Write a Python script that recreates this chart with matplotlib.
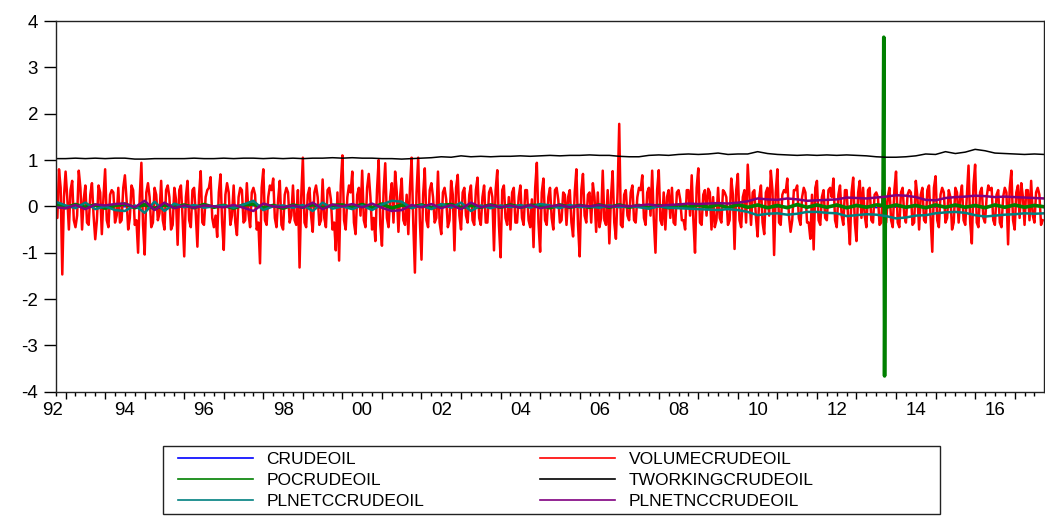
import numpy as np
import matplotlib
matplotlib.use("Agg")
import matplotlib.pyplot as plt
from matplotlib.patches import Rectangle

plt.rcParams['font.family'] = ['Liberation Sans', 'DejaVu Sans']
plt.rcParams['axes.unicode_minus'] = False

start_year = 1992.75

# VOLUMECRUDEOIL, first half of each month, Oct 1992 .. Sep 2017
volume = [
    0.3, 0.8, -1.47,
    0.75, -0.5, 0.55, -0.45, 0.77, -0.5, 0.45, -0.4, 0.5, -0.71, 0.45, -0.6,
    0.8, -0.45, 0.35, -0.35, 0.4, -0.3, 0.67, -0.5, 0.45, -0.4, -1.0, 0.94,
    -1.04, 0.5, -0.45, 0.4, -0.3, 0.55, -0.5, 0.45, -0.5, 0.4, -0.83, 0.45,
    -1.08, 0.55, -0.45, 0.4, -0.87, 0.76, -0.4, 0.35, 0.63, -0.45, -0.66, 0.69,
    -0.94, 0.5, -0.4, 0.45, -0.62, 0.4, -0.35, 0.5, -0.45, 0.4, -0.5, -1.23,
    0.8, -0.4, 0.45, 0.6, -0.45, 0.55, -0.5, 0.4, -0.35, 0.45, -0.4, -1.32,
    1.05, -0.45, 0.4, -0.55, 0.45, -0.4, 0.58, -0.45, 0.4, -0.5, -0.95, -1.17,
    1.1, -0.5, 0.45, 0.75, -0.6, 0.4, 0.77, -0.45, 0.7, -0.5, -0.75, 1.0,
    -0.85, 0.93, -0.45, 0.5, 0.75, -0.55, 0.6, -0.4, -0.6, 1.05, -1.43, 1.05,
    -1.15, 0.82, -0.45, 0.5, -0.35, 0.75, -0.6, 0.4, -0.45, 0.55, -0.95, 0.68,
    -0.5, 0.4, -0.35, 0.45, -0.4, 0.62, -0.4, 0.45, -0.35, 0.4, -0.95, 0.78,
    -1.1, 0.45, -0.4, -0.5, 0.4, -0.35, 0.45, -0.4, 0.35, -0.45, -0.88, 0.94,
    -0.98, 0.6, -0.4, 0.4, -0.5, 0.4, -0.35, 0.3, -0.4, 0.35, -0.65, 0.8,
    -1.08, 0.7, -0.35, 0.3, 0.5, -0.55, -0.45, 0.77, -0.4, -0.8, 0.76, -0.7,
    1.78, -0.45, 0.35, -0.3, 0.45, -0.35, 0.4, 0.67, -0.4, 0.4, 0.77, -1.0,
    0.78, -0.4, -0.5, 0.35, 0.4, -0.4, 0.35, -0.3, -0.5, 0.35, 0.67, -1.0,
    0.82, -0.4, 0.35, 0.38, -0.5, -0.45, 0.4, -0.35, 0.3, -0.4, 0.6, -0.92,
    0.7, -0.45, 0.35, 0.9, -0.4, 0.35, -0.65, 0.45, -0.6, 0.4, 0.77, -1.05,
    0.8, -0.4, 0.35, 0.6, -0.55, 0.35, 0.45, -0.4, 0.4, -0.35, -0.7, -0.93,
    0.55, -0.4, 0.35, -0.3, 0.4, 0.6, -0.45, 0.45, -0.4, 0.35, -0.82, 0.62,
    -0.75, 0.55, 0.4, -0.45, 0.4, -0.35, 0.3, -0.4, 0.35, -0.35, 0.4, -0.45,
    0.75, -0.45, 0.4, -0.35, 0.35, -0.4, 0.55, -0.5, 0.4, -0.35, 0.45, -0.98,
    0.65, -0.45, 0.4, -0.35, 0.35, -0.5, 0.4, -0.35, 0.45, -0.4, 0.88, -0.8,
    0.9, -0.45, 0.4, -0.35, 0.45, 0.4, -0.4, 0.35, -0.45, 0.4, -0.82, 0.77,
    -0.5, 0.45, 0.5, -0.4, 0.35, 0.55, -0.35, 0.4, -0.4,
]
# VOLUMECRUDEOIL, second half of each month
volume_mid = [
    -0.25, 0.4, 0.2,
    0.2, 0.35, -0.3, -0.2, 0.4, 0.15, -0.35, 0.25, -0.2, -0.3, 0.3, 0.2,
    -0.3, 0.25, 0.3, -0.2, -0.35, 0.4, 0.15, -0.25, 0.35, -0.3, 0.2, -0.4,
    0.3, 0.2, -0.35, 0.25, -0.15, -0.3, 0.35, 0.2, -0.4, 0.15, 0.35, -0.25,
    0.2, -0.3, 0.35, -0.15, 0.25, -0.35, 0.2, 0.4, -0.25, -0.2, 0.3, -0.35,
    0.25, 0.3, -0.2, -0.35, 0.2, 0.35, -0.3, -0.15, 0.3, 0.25, -0.35, 0.4,
    -0.3, 0.2, 0.35, -0.25, 0.15, -0.4, 0.25, 0.3, -0.2, -0.3, 0.35, 0.2,
    -0.35, 0.25, -0.2, 0.3, 0.2, -0.3, -0.25, 0.35, 0.15, -0.35, 0.3, 0.45,
    -0.3, 0.2, 0.3, -0.35, 0.25, -0.2, -0.3, 0.4, 0.2, -0.25, 0.35, -0.4,
    0.3, -0.25, 0.2, -0.35, 0.3, 0.2, -0.3, 0.25, 0.4, -0.35, 0.3, -0.3,
    0.25, -0.3, 0.35, 0.2, -0.25, -0.35, 0.3, 0.15, -0.3, 0.25, 0.4, -0.2,
    0.3, -0.2, 0.25, -0.3, 0.35, -0.25, 0.2, -0.35, 0.3, 0.2, 0.35, -0.4,
    0.35, -0.25, 0.2, 0.3, -0.35, 0.2, -0.25, 0.35, -0.3, 0.15, 0.4, -0.35,
    0.3, -0.3, 0.2, -0.25, 0.35, 0.15, -0.3, 0.25, 0.2, -0.35, 0.3, -0.4,
    0.35, -0.2, 0.25, -0.35, 0.2, 0.3, -0.25, -0.3, 0.35, 0.2, -0.35, 0.3,
    -0.4, 0.25, -0.2, 0.3, -0.3, 0.2, 0.35, -0.25, 0.3, -0.2, -0.3, 0.35,
    -0.3, 0.3, 0.2, -0.25, -0.35, 0.3, 0.15, -0.3, 0.35, -0.2, -0.3, 0.4,
    -0.35, 0.25, -0.2, 0.3, 0.2, -0.3, -0.25, 0.35, 0.2, -0.3, 0.25, 0.35,
    -0.3, 0.2, -0.35, 0.25, 0.3, -0.25, 0.2, -0.35, 0.3, -0.2, 0.35, 0.3,
    -0.35, 0.25, 0.3, -0.2, -0.3, 0.35, -0.25, 0.2, 0.3, -0.35, 0.25, 0.4,
    -0.3, 0.2, -0.25, 0.35, 0.2, -0.3, 0.25, -0.2, 0.35, -0.3, 0.3, -0.35,
    0.3, -0.25, -0.2, 0.35, -0.3, 0.25, 0.2, -0.35, 0.3, 0.2, -0.3, 0.35,
    -0.35, 0.3, -0.2, 0.25, 0.3, -0.35, 0.2, 0.25, -0.3, 0.35, -0.25, 0.4,
    -0.3, 0.25, 0.3, -0.25, 0.2, -0.35, 0.3, 0.2, -0.3, 0.25, -0.35, 0.45,
    -0.35, 0.3, -0.25, 0.2, 0.35, -0.3, 0.25, -0.35, 0.2, 0.3, 0.4, -0.3,
    0.3, -0.25, 0.2, 0.35, -0.3, -0.2, 0.3, 0.25, -0.3,
]

# quarterly series, Q4 1992 .. Q4 2017
tworking = [
    1.03,
    1.03, 1.04, 1.03, 1.04,  1.03, 1.04, 1.04, 1.02,  1.02, 1.03, 1.03, 1.03,
    1.03, 1.04, 1.03, 1.03,  1.04, 1.03, 1.04, 1.04,  1.03, 1.04, 1.03, 1.04,
    1.03, 1.04, 1.04, 1.05,  1.04, 1.05, 1.04, 1.04,  1.03, 1.03, 1.02, 1.03,
    1.04, 1.05, 1.07, 1.06,  1.09, 1.07, 1.08, 1.07,  1.08, 1.08, 1.09, 1.08,
    1.09, 1.10, 1.09, 1.10,  1.10, 1.11, 1.10, 1.10,  1.08, 1.07, 1.07, 1.10,
    1.11, 1.10, 1.12, 1.13,  1.12, 1.13, 1.15, 1.12,  1.13, 1.13, 1.18, 1.14,
    1.12, 1.11, 1.10, 1.11,  1.10, 1.11, 1.10, 1.11,  1.10, 1.09, 1.07, 1.06,
    1.06, 1.07, 1.09, 1.13,  1.12, 1.18, 1.14, 1.17,  1.23, 1.20, 1.15, 1.14,
    1.13, 1.12, 1.13, 1.12,
]
plnetc = [
    0.1,
    0.02, -0.04, 0.08, -0.06,  0.0, -0.08, -0.1, 0.02,  -0.14, 0.1, -0.1, 0.06,
    -0.02, 0.03, -0.03, 0.0,  0.02, -0.03, 0.04, 0.12,  -0.08, 0.0, 0.02, -0.03,
    0.03, -0.1, 0.08, -0.05,  0.0, -0.06, 0.02, -0.08,  0.04, 0.12, 0.1, -0.04,
    0.03, -0.06, 0.05, -0.03,  0.08, -0.1, 0.02, -0.04,  0.02, -0.02, 0.03, -0.03,
    0.05, 0.02, -0.04, 0.03,  -0.02, 0.0, -0.03, 0.02,  -0.02, 0.01, -0.02, -0.05,
    0.0, -0.03, -0.04, -0.05,  -0.06, -0.07, -0.08, -0.06,  -0.08, -0.12, -0.19, -0.16,
    -0.15, -0.18, -0.16, -0.12,  -0.12, -0.14, -0.15, -0.21,  -0.19, -0.17, -0.18, -0.21,
    -0.26, -0.24, -0.2, -0.19,  -0.15, -0.13, -0.12, -0.14,  -0.19, -0.22, -0.2, -0.18,
    -0.17, -0.15, -0.16, -0.15,
]
plnetnc = [
    -0.02,
    -0.04, 0.03, -0.06, 0.04,  0.02, 0.05, 0.06, -0.02,  0.12, -0.08, 0.08, -0.04,
    0.02, -0.03, 0.02, 0.0,  -0.02, 0.03, -0.03, -0.1,  0.06, 0.0, -0.02, 0.02,
    -0.03, 0.08, -0.06, 0.04,  0.0, 0.05, -0.02, 0.06,  -0.03, -0.1, -0.08, 0.03,
    -0.02, 0.05, -0.04, 0.03,  -0.06, 0.08, -0.02, 0.03,  -0.02, 0.02, -0.03, 0.03,
    -0.04, 0.0, 0.03, -0.02,  0.02, 0.0, 0.03, -0.01,  0.02, 0.0, 0.02, 0.04,
    0.01, 0.03, 0.04, 0.06,  0.05, 0.06, 0.07, 0.06,  0.08, 0.11, 0.17, 0.15,
    0.14, 0.17, 0.15, 0.12,  0.13, 0.14, 0.15, 0.19,  0.18, 0.17, 0.19, 0.21,
    0.24, 0.23, 0.2, 0.14,  0.13, 0.18, 0.2, 0.21,  0.23, 0.22, 0.2, 0.21,
    0.2, 0.19, 0.18, 0.17,
]
pocrude = [
    0.05,
    -0.03, 0.04, -0.02, 0.03,  -0.04, 0.02, 0.05, -0.03,  0.04, -0.05, 0.03, -0.02,
    0.03, -0.03, 0.04, -0.02,  0.02, -0.04, 0.03, 0.05,  -0.03, 0.02, -0.04, 0.03,
    -0.02, 0.04, -0.03, 0.02,  0.03, -0.02, 0.04, -0.03,  0.05, -0.04, 0.03, -0.02,
    0.03, -0.03, 0.02, 0.04,  -0.03, 0.02, -0.02, 0.03,  -0.02, 0.03, -0.02, 0.02,
    0.02, -0.03, 0.03, -0.02,  0.02, -0.02, 0.03, -0.02,  0.03, -0.02, 0.02, -0.03,
    0.02, -0.03, 0.03, -0.02,  0.03, -0.02, 0.04, -0.03,  0.04, -0.02, 0.03, -0.03,
    0.02, -0.03, 0.04, -0.02,  0.03, -0.02, 0.03, -0.03,  0.02, -0.02, 0.03, -0.02,
    0.03, -0.02, 0.02, -0.03,  0.03, -0.02, 0.03, -0.02,  0.02, -0.03, 0.03, -0.02,
    0.03, -0.02, 0.02, -0.01,
]
# the one-week jump of POCRUDEOIL in September 2013
po_spike_t = [2013.67, 2013.69, 2013.71, 2013.73]
po_spike = [0.02, 3.65, -3.66, 0.0]
crudeoil = [
    0.01,
    0.0, 0.01, -0.01, 0.0,  0.01, 0.0, -0.01, 0.01,  0.0, -0.01, 0.01, 0.0,
    0.0, 0.01, 0.0, -0.01,  0.01, 0.0, 0.0, 0.01,  -0.01, 0.0, 0.01, 0.0,
    0.0, -0.01, 0.01, 0.0,  0.01, 0.0, -0.01, 0.0,  0.0, 0.01, 0.0, -0.01,
    0.01, 0.0, 0.0, -0.01,  0.0, 0.01, -0.01, 0.0,  0.01, 0.0, 0.0, -0.01,
    0.0, 0.01, 0.0, 0.0,  -0.01, 0.0, 0.01, 0.0,  -0.02, 0.0, 0.01, -0.03,
    0.0, -0.04, 0.02, -0.03,  0.0, -0.02, 0.01, -0.03,  0.0, -0.02, 0.01, 0.0,
    -0.02, 0.0, 0.01, -0.02,  0.0, -0.01, 0.0, -0.02,  0.0, 0.01, -0.03, 0.0,
    -0.02, 0.0, -0.01, 0.0,  -0.02, 0.0, -0.01, 0.0,  -0.01, 0.0, 0.01, 0.0,
    0.0, -0.01, 0.0, 0.0,
]

year_labels = ['92', '94', '96', '98', '00', '02', '04', '06', '08', '10', '12', '14', '16']
year_label_pos = [1992.68] + [1994.5 + 2 * k for k in range(12)]

t_month = start_year + np.arange(len(volume)) / 12.0
t_vol = np.column_stack([t_month, t_month + 1 / 24.0]).ravel()
vol = np.column_stack([volume, volume_mid]).ravel()
t_quarter = start_year + np.arange(len(tworking)) / 4.0

po_t = np.concatenate([t_quarter, po_spike_t])
po_v = np.concatenate([pocrude, po_spike])
order = np.argsort(po_t)
po_t, po_v = po_t[order], po_v[order]

fig = plt.figure(figsize=(10.45, 5.16), dpi=100)
ax = fig.add_axes([0.0533, 0.2409, 0.9453, 0.7184])

l_crude, = ax.plot(t_quarter, crudeoil, color='#0000ff', lw=1.0, label='CRUDEOIL')
l_vol, = ax.plot(t_vol, vol, color='#ff0000', lw=1.8, label='VOLUMECRUDEOIL')
l_po, = ax.plot(po_t, po_v, color='#008000', lw=2.6, label='POCRUDEOIL')
l_tw, = ax.plot(t_quarter, tworking, color='black', lw=1.1, label='TWORKINGCRUDEOIL')
l_pc, = ax.plot(t_quarter, plnetc, color='#008080', lw=1.8, label='PLNETCCRUDEOIL')
l_pn, = ax.plot(t_quarter, plnetnc, color='#800080', lw=1.8, label='PLNETNCCRUDEOIL')

ax.set_xlim(start_year, 2017.73)
ax.set_ylim(-4, 4)
ax.set_yticks(range(-4, 5))
ax.set_yticklabels([str(v) for v in range(-4, 5)])
ax.tick_params(axis='y', direction='out', length=8.6, width=1, pad=4, labelsize=13.5)

ax.set_xticks(range(1993, 2018))
ax.set_xticks([y + q / 4 for y in range(1992, 2018) for q in (1, 2, 3)
               if start_year <= y + q / 4 <= 2017.73], minor=True)
ax.set_xticklabels([])
ax.tick_params(axis='x', which='major', direction='out', length=5, width=1)
ax.tick_params(axis='x', which='minor', direction='out', length=3, width=1)
for lab, pos in zip(year_labels, year_label_pos):
    ax.annotate(lab, xy=(pos, 0), xycoords=('data', 'axes fraction'),
                xytext=(0, -13.5), textcoords='offset points',
                ha='center', va='center', fontsize=13.5, annotation_clip=False)

for s in ax.spines.values():
    s.set_linewidth(1.0)
    s.set_color('#222222')

# legend: frame drawn as a box, two columns placed separately
fig.patches.append(Rectangle((163 / 1045, 2 / 516), 777 / 1045, 68 / 516,
                             transform=fig.transFigure, fill=False,
                             edgecolor='#222222', lw=1.0))
leg_kw = dict(loc='upper left', fontsize=12.5, handlelength=4.3, handletextpad=0.8,
              labelspacing=0.34, borderpad=0, borderaxespad=0, frameon=False)
col1 = [l_crude, l_po, l_pc]
col2 = [l_vol, l_tw, l_pn]
leg1 = fig.legend(handles=col1, labels=[h.get_label() for h in col1],
                  bbox_to_anchor=(178 / 1045, 1 - 452 / 516), **leg_kw)
leg2 = fig.legend(handles=col2, labels=[h.get_label() for h in col2],
                  bbox_to_anchor=(540 / 1045, 1 - 452 / 516), **leg_kw)
for leg in (leg1, leg2):
    for h in leg.legend_handles:
        h.set_linewidth(1.2)

fig.savefig('out.png', dpi=100)
